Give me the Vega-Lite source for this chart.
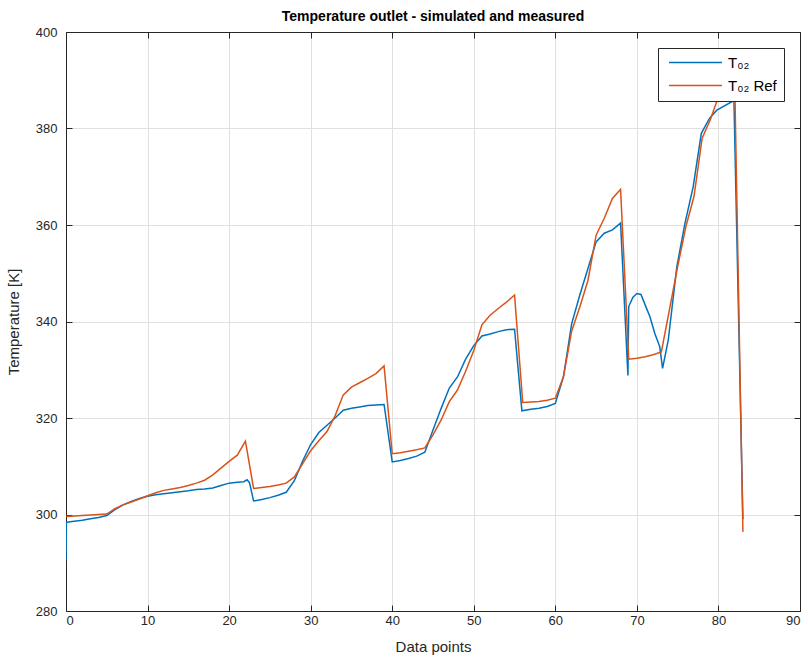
{
  "$schema": "https://vega.github.io/schema/vega-lite/v6.json",
  "autosize": {"type": "none"},
  "padding": {"left": 66, "top": 32, "right": 8, "bottom": 47},
  "width": 734,
  "height": 579,
  "background": "white",
  "title": {"text": "Temperature outlet - simulated and measured", "fontSize": 14, "fontWeight": "bold", "font": "Liberation Sans", "color": "#000000", "anchor": "middle", "offset": 2},
  "data": {"values": [
      {"series": "T₀₂", "x": 0, "y": 290.5}, {"series": "T₀₂", "x": 0.05, "y": 298.4}, {"series": "T₀₂", "x": 1, "y": 298.6}, {"series": "T₀₂", "x": 2, "y": 298.8}, {"series": "T₀₂", "x": 3, "y": 299.1}, {"series": "T₀₂", "x": 4, "y": 299.4}, {"series": "T₀₂", "x": 5, "y": 299.8}, {"series": "T₀₂", "x": 6, "y": 301.0}, {"series": "T₀₂", "x": 7, "y": 302.0}, {"series": "T₀₂", "x": 8, "y": 302.7}, {"series": "T₀₂", "x": 9, "y": 303.3}, {"series": "T₀₂", "x": 10, "y": 303.8}, {"series": "T₀₂", "x": 11, "y": 304.1}, {"series": "T₀₂", "x": 12, "y": 304.3}, {"series": "T₀₂", "x": 13, "y": 304.5}, {"series": "T₀₂", "x": 14, "y": 304.7}, {"series": "T₀₂", "x": 15, "y": 304.9}, {"series": "T₀₂", "x": 16, "y": 305.2}, {"series": "T₀₂", "x": 17, "y": 305.3}, {"series": "T₀₂", "x": 18, "y": 305.5}, {"series": "T₀₂", "x": 19, "y": 306.0}, {"series": "T₀₂", "x": 20, "y": 306.5}, {"series": "T₀₂", "x": 21, "y": 306.7}, {"series": "T₀₂", "x": 21.8, "y": 306.8}, {"series": "T₀₂", "x": 22.2, "y": 307.2}, {"series": "T₀₂", "x": 22.5, "y": 306.6}, {"series": "T₀₂", "x": 23, "y": 302.8}, {"series": "T₀₂", "x": 24, "y": 303.1}, {"series": "T₀₂", "x": 25, "y": 303.5}, {"series": "T₀₂", "x": 26, "y": 304.0}, {"series": "T₀₂", "x": 27, "y": 304.6}, {"series": "T₀₂", "x": 28, "y": 307.0}, {"series": "T₀₂", "x": 29, "y": 311.0}, {"series": "T₀₂", "x": 30, "y": 314.5}, {"series": "T₀₂", "x": 31, "y": 317.0}, {"series": "T₀₂", "x": 32, "y": 318.5}, {"series": "T₀₂", "x": 33, "y": 320.0}, {"series": "T₀₂", "x": 34, "y": 321.6}, {"series": "T₀₂", "x": 35, "y": 322.0}, {"series": "T₀₂", "x": 36, "y": 322.3}, {"series": "T₀₂", "x": 37, "y": 322.6}, {"series": "T₀₂", "x": 38, "y": 322.7}, {"series": "T₀₂", "x": 39, "y": 322.8}, {"series": "T₀₂", "x": 40, "y": 310.9}, {"series": "T₀₂", "x": 41, "y": 311.2}, {"series": "T₀₂", "x": 42, "y": 311.6}, {"series": "T₀₂", "x": 43, "y": 312.1}, {"series": "T₀₂", "x": 44, "y": 312.9}, {"series": "T₀₂", "x": 45, "y": 317.5}, {"series": "T₀₂", "x": 46, "y": 322.0}, {"series": "T₀₂", "x": 47, "y": 326.2}, {"series": "T₀₂", "x": 48, "y": 328.5}, {"series": "T₀₂", "x": 49, "y": 332.2}, {"series": "T₀₂", "x": 50, "y": 335.0}, {"series": "T₀₂", "x": 51, "y": 337.0}, {"series": "T₀₂", "x": 52, "y": 337.4}, {"series": "T₀₂", "x": 53, "y": 337.9}, {"series": "T₀₂", "x": 54, "y": 338.3}, {"series": "T₀₂", "x": 55, "y": 338.4}, {"series": "T₀₂", "x": 55.9, "y": 321.5}, {"series": "T₀₂", "x": 57, "y": 321.8}, {"series": "T₀₂", "x": 58, "y": 322.0}, {"series": "T₀₂", "x": 59, "y": 322.4}, {"series": "T₀₂", "x": 60, "y": 323.0}, {"series": "T₀₂", "x": 61, "y": 328.6}, {"series": "T₀₂", "x": 62, "y": 339.5}, {"series": "T₀₂", "x": 63, "y": 345.5}, {"series": "T₀₂", "x": 64, "y": 351.0}, {"series": "T₀₂", "x": 65, "y": 356.5}, {"series": "T₀₂", "x": 66, "y": 358.3}, {"series": "T₀₂", "x": 67, "y": 359.0}, {"series": "T₀₂", "x": 68, "y": 360.4}, {"series": "T₀₂", "x": 68.9, "y": 328.8}, {"series": "T₀₂", "x": 69.0, "y": 343.1}, {"series": "T₀₂", "x": 69.5, "y": 345.0}, {"series": "T₀₂", "x": 70, "y": 345.8}, {"series": "T₀₂", "x": 70.5, "y": 345.6}, {"series": "T₀₂", "x": 71.0, "y": 343.5}, {"series": "T₀₂", "x": 71.6, "y": 341.0}, {"series": "T₀₂", "x": 72.2, "y": 337.5}, {"series": "T₀₂", "x": 72.8, "y": 334.8}, {"series": "T₀₂", "x": 73.15, "y": 330.3}, {"series": "T₀₂", "x": 73.85, "y": 336.2}, {"series": "T₀₂", "x": 74.9, "y": 351.4}, {"series": "T₀₂", "x": 75.9, "y": 360.4}, {"series": "T₀₂", "x": 76.9, "y": 367.9}, {"series": "T₀₂", "x": 77.9, "y": 379.0}, {"series": "T₀₂", "x": 78.9, "y": 382.1}, {"series": "T₀₂", "x": 79.8, "y": 383.8}, {"series": "T₀₂", "x": 81.9, "y": 385.8}, {"series": "T₀₂", "x": 83, "y": 299.0},
      {"series": "T₀₂ Ref", "x": 0, "y": 299.6}, {"series": "T₀₂ Ref", "x": 5, "y": 300.1}, {"series": "T₀₂ Ref", "x": 6, "y": 301.2}, {"series": "T₀₂ Ref", "x": 7, "y": 302.0}, {"series": "T₀₂ Ref", "x": 8, "y": 302.6}, {"series": "T₀₂ Ref", "x": 9, "y": 303.2}, {"series": "T₀₂ Ref", "x": 10, "y": 303.9}, {"series": "T₀₂ Ref", "x": 11, "y": 304.5}, {"series": "T₀₂ Ref", "x": 12, "y": 305.0}, {"series": "T₀₂ Ref", "x": 13, "y": 305.3}, {"series": "T₀₂ Ref", "x": 14, "y": 305.6}, {"series": "T₀₂ Ref", "x": 15, "y": 306.0}, {"series": "T₀₂ Ref", "x": 16, "y": 306.5}, {"series": "T₀₂ Ref", "x": 17, "y": 307.1}, {"series": "T₀₂ Ref", "x": 18, "y": 308.2}, {"series": "T₀₂ Ref", "x": 19, "y": 309.6}, {"series": "T₀₂ Ref", "x": 20, "y": 311.0}, {"series": "T₀₂ Ref", "x": 21, "y": 312.3}, {"series": "T₀₂ Ref", "x": 22, "y": 315.2}, {"series": "T₀₂ Ref", "x": 23, "y": 305.4}, {"series": "T₀₂ Ref", "x": 24, "y": 305.6}, {"series": "T₀₂ Ref", "x": 25, "y": 305.8}, {"series": "T₀₂ Ref", "x": 26, "y": 306.1}, {"series": "T₀₂ Ref", "x": 27, "y": 306.5}, {"series": "T₀₂ Ref", "x": 28, "y": 307.8}, {"series": "T₀₂ Ref", "x": 29, "y": 310.5}, {"series": "T₀₂ Ref", "x": 30, "y": 313.2}, {"series": "T₀₂ Ref", "x": 31, "y": 315.3}, {"series": "T₀₂ Ref", "x": 32, "y": 317.2}, {"series": "T₀₂ Ref", "x": 33, "y": 320.5}, {"series": "T₀₂ Ref", "x": 34, "y": 324.8}, {"series": "T₀₂ Ref", "x": 35, "y": 326.4}, {"series": "T₀₂ Ref", "x": 36, "y": 327.3}, {"series": "T₀₂ Ref", "x": 37, "y": 328.2}, {"series": "T₀₂ Ref", "x": 38, "y": 329.2}, {"series": "T₀₂ Ref", "x": 39, "y": 330.8}, {"series": "T₀₂ Ref", "x": 40, "y": 312.6}, {"series": "T₀₂ Ref", "x": 41, "y": 312.8}, {"series": "T₀₂ Ref", "x": 42, "y": 313.1}, {"series": "T₀₂ Ref", "x": 43, "y": 313.4}, {"series": "T₀₂ Ref", "x": 44, "y": 313.8}, {"series": "T₀₂ Ref", "x": 45, "y": 316.5}, {"series": "T₀₂ Ref", "x": 46, "y": 319.6}, {"series": "T₀₂ Ref", "x": 47, "y": 323.4}, {"series": "T₀₂ Ref", "x": 48, "y": 325.8}, {"series": "T₀₂ Ref", "x": 49, "y": 329.7}, {"series": "T₀₂ Ref", "x": 50, "y": 334.0}, {"series": "T₀₂ Ref", "x": 51, "y": 339.3}, {"series": "T₀₂ Ref", "x": 52, "y": 341.3}, {"series": "T₀₂ Ref", "x": 53, "y": 342.7}, {"series": "T₀₂ Ref", "x": 54, "y": 344.0}, {"series": "T₀₂ Ref", "x": 55, "y": 345.5}, {"series": "T₀₂ Ref", "x": 56, "y": 323.2}, {"series": "T₀₂ Ref", "x": 57, "y": 323.3}, {"series": "T₀₂ Ref", "x": 58, "y": 323.4}, {"series": "T₀₂ Ref", "x": 59, "y": 323.7}, {"series": "T₀₂ Ref", "x": 60, "y": 324.1}, {"series": "T₀₂ Ref", "x": 61, "y": 328.6}, {"series": "T₀₂ Ref", "x": 62, "y": 338.0}, {"series": "T₀₂ Ref", "x": 63, "y": 343.0}, {"series": "T₀₂ Ref", "x": 64, "y": 348.5}, {"series": "T₀₂ Ref", "x": 65, "y": 357.9}, {"series": "T₀₂ Ref", "x": 66, "y": 361.4}, {"series": "T₀₂ Ref", "x": 67, "y": 365.5}, {"series": "T₀₂ Ref", "x": 68, "y": 367.4}, {"series": "T₀₂ Ref", "x": 69, "y": 332.2}, {"series": "T₀₂ Ref", "x": 70, "y": 332.4}, {"series": "T₀₂ Ref", "x": 71, "y": 332.7}, {"series": "T₀₂ Ref", "x": 72, "y": 333.1}, {"series": "T₀₂ Ref", "x": 73, "y": 333.7}, {"series": "T₀₂ Ref", "x": 74, "y": 342.5}, {"series": "T₀₂ Ref", "x": 75, "y": 351.4}, {"series": "T₀₂ Ref", "x": 76, "y": 359.6}, {"series": "T₀₂ Ref", "x": 77, "y": 365.9}, {"series": "T₀₂ Ref", "x": 78, "y": 378.0}, {"series": "T₀₂ Ref", "x": 79, "y": 381.8}, {"series": "T₀₂ Ref", "x": 80, "y": 386.6}, {"series": "T₀₂ Ref", "x": 81, "y": 388.0}, {"series": "T₀₂ Ref", "x": 82, "y": 389.0}, {"series": "T₀₂ Ref", "x": 83, "y": 296.4}
  ]},
  "config": {
    "view": {"stroke": "#262626", "strokeWidth": 1},
    "font": "Liberation Sans",
    "axis": {
      "domainColor": "#262626", "tickColor": "#262626", "labelColor": "#262626", "titleColor": "#262626",
      "labelFont": "Liberation Sans", "titleFont": "Liberation Sans", "labelFontSize": 13, "titleFontSize": 15, "titleFontWeight": "normal",
      "gridColor": "#e0e0e0", "gridWidth": 1, "tickSize": -6, "tickWidth": 1
    }
  },
  "layer": [
    {
      "mark": {"type": "line", "strokeWidth": 1.5, "clip": true},
      "encoding": {
        "x": {"field": "x", "type": "quantitative", "scale": {"domain": [0, 90], "nice": false, "zero": false},
              "axis": {"orient": "bottom", "values": [0,10,20,30,40,50,60,70,80,90], "title": "Data points", "labelPadding": 9, "titlePadding": 12, "grid": true}},
        "y": {"field": "y", "type": "quantitative", "scale": {"domain": [280, 400], "nice": false, "zero": false},
              "axis": {"orient": "left", "values": [280,300,320,340,360,380,400], "title": "Temperature [K]", "labelPadding": 15, "titlePadding": 14, "grid": true}},
        "color": {"field": "series", "type": "nominal",
                  "scale": {"domain": ["T₀₂", "T₀₂ Ref"], "range": ["#0072BD", "#D95319"]},
                  "legend": {"title": null, "orient": "top-right", "offset": 16, "symbolType": "M-4,0H4", "symbolSize": 175, "symbolOffset": 23, "symbolStrokeWidth": 1.5, "symbolFillColor": "transparent",
                             "labelFontSize": 15, "labelColor": "#000000", "labelOffset": 25, "strokeColor": "#262626", "fillColor": "white", "padding": 7, "rowPadding": 7}}
      }
    },
    {
      "mark": {"type": "line", "opacity": 0},
      "encoding": {
        "x": {"field": "x", "type": "quantitative", "axis": {"orient": "top", "values": [0,10,20,30,40,50,60,70,80,90], "labels": false, "title": null, "grid": false}},
        "y": {"field": "y", "type": "quantitative", "axis": {"orient": "right", "values": [280,300,320,340,360,380,400], "labels": false, "title": null, "grid": false}}
      }
    }
  ],
  "resolve": {"axis": {"x": "independent", "y": "independent"}}
}
